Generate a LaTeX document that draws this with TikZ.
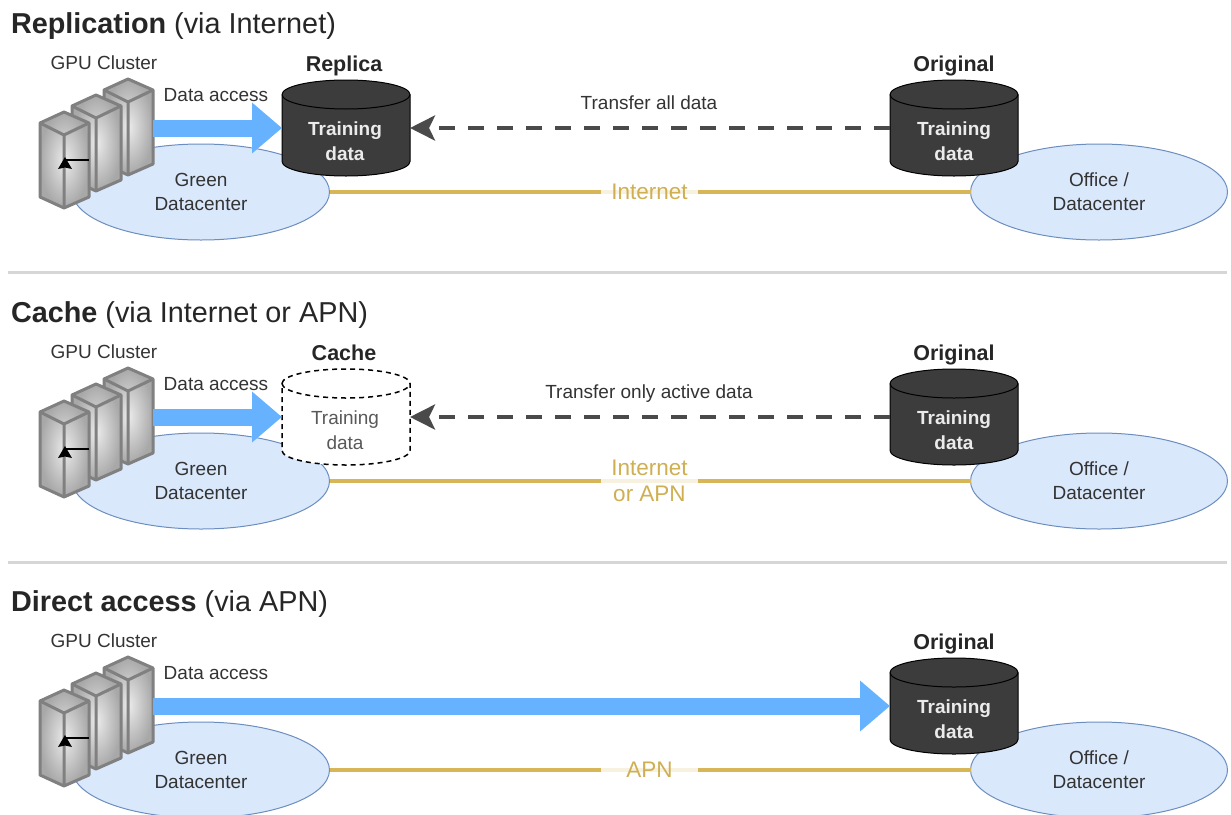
\documentclass[tikz,border=0pt]{standalone}
\usepackage{fontspec}
\setmainfont{Liberation Sans}
\usetikzlibrary{arrows.meta,shapes.geometric}
\definecolor{txt}{HTML}{333333}
\definecolor{blueflow}{HTML}{66B2FF}
\definecolor{dcfill}{HTML}{DAE8FC}
\definecolor{dcline}{HTML}{6C8EBF}
\definecolor{cyldark}{HTML}{3C3C3C}
\definecolor{gold}{HTML}{CFAF52}
\definecolor{linkgold}{HTML}{D6B656}
\definecolor{dashgray}{HTML}{4A4A4A}
\definecolor{rulegray}{HTML}{D6D6D6}
\definecolor{srvline}{HTML}{808080}
\newcommand{\fs}[2]{\fontsize{#1}{#2}\selectfont}
\tikzset{
  x=1pt,y=-1pt,
  every node/.style={inner sep=0pt,outer sep=0pt},
  plain/.style={font=\fs{19}{24},text=txt,align=center},
  headlabel/.style={font=\fs{21.5}{26}\bfseries,text=black!85,anchor=base},
  titletext/.style={font=\fs{28.8}{32},text=black!85,anchor=base west},
  dc/.style={ellipse,draw=dcline,line width=1pt,fill=dcfill,minimum width=257pt,minimum height=96pt,plain},
  cylbox/.style={minimum width=128pt,minimum height=96pt},
  darkcyl/.style={draw=black,fill=cyldark,line width=1pt},
  lightcyl/.style={draw=black,fill=white,line width=1.5pt,dash pattern=on 5pt off 4pt},
  cyldarktext/.style={font=\fs{19}{25}\bfseries,text=white!92!black,align=center},
  cyllighttext/.style={font=\fs{19}{25},text=black!65,align=center},
  linklabel/.style={font=\fs{22.5}{26},text=gold,align=center,fill=white,fill opacity=.82,text opacity=1,minimum width=97pt,minimum height=48pt},
  link/.style={draw=linkgold,line width=4pt},
  access/.style={draw=blueflow,line width=17pt,-{Triangle[length=30pt,width=49pt]}},
  transfer/.style={draw=dashgray,line width=4.5pt,dash pattern=on 16pt off 13pt,-{Stealth[length=25pt,width=25pt,inset=6pt]}},
  sep/.style={draw=rulegray,line width=3pt},
  srvblock/.style={draw=srvline,line width=3pt,line join=round,inner color=black!8,outer color=black!34},
  srvedge/.style={draw=srvline,line width=3pt,line join=round},
}
% cylinder: #1 name, #2 centre x, #3 centre y, #4 style
\newcommand{\cyl}[4]{%
  \node[cylbox] (#1) at (#2,#3) {};
  \path[#4] (#1.north west) ++(0,14.5) arc[x radius=64,y radius=14.5,start angle=180,end angle=360]
     -- ++(0,67) arc[x radius=64,y radius=14.5,start angle=0,end angle=180] -- cycle;
  \path[#4,fill=none] (#1.north west) ++(0,14.5) arc[x radius=64,y radius=14.5,start angle=180,end angle=0];
}
% server block with offset
\newcommand{\blk}[2]{%
  \begin{scope}[shift={(#1,#2)}]
    \path[srvblock,shade] (64,112)--(89,123)--(89,197)--(64,208)--(40,197)--(40,123)--cycle;
    \path[srvedge] (40,123)--(64,135)--(89,123) (64,135)--(64,208);
  \end{scope}}
% one panel: #1 prefix
\newcommand{\basepanel}[1]{%
  \node[plain,anchor=base] (#1gpu) at (104,69) {GPU Cluster};
  \node[dc] (#1green) at (201,192) {Green\\Datacenter};
  \node[dc] (#1office) at (1099,192) {Office /\\Datacenter};
  \node[plain,anchor=base] (#1da) at (216,101) {Data access};
  \coordinate (#1out) at (153,128);
  \blk{64}{-33}\blk{32}{-17}\blk{0}{0}
  \coordinate (#1ma) at (89,160);
  \coordinate (#1mb) at (65,160);
  \draw[black,line width=1.5pt] (#1ma) -- (#1mb);
  \fill[black] (#1mb)++(0,-3) -- ++(7,12) -- ++(-7,-1.5) -- ++(-7,1.5) -- cycle;
  \node[headlabel] (#1ol) at (954,71) {Original};
  \cyl{#1org}{954}{128}{darkcyl}
  \node[cyldarktext] (#1ot) at (954,141) {Training\\data};
}
\begin{document}
\begin{tikzpicture}
\useasboundingbox (0,0) rectangle (1231,814);
\clip (0,0) rectangle (1231,814);

% Replication
\node[titletext] (t1) at (11,33) {\textbf{Replication} (via Internet)};
\basepanel{a}
\cyl{arep}{346}{128}{darkcyl}
\node[cyldarktext] (art) at (345,141) {Training\\data};
\node[headlabel] (arl) at (344,71) {Replica};
\draw[access] (aout) -- (arep.west);
\draw[transfer] (aorg.west) -- (arep.east);
\node[plain,anchor=base] (atr) at (649,109) {Transfer all data};
\draw[link] (agreen.east) -- (aoffice.west);
\node[linklabel] (ali) at (649.5,192) {Internet};
\coordinate (s1a) at (8,272); \coordinate (s1b) at (1227,272);
\draw[sep] (s1a) -- (s1b);

% Cache
\node[titletext] (t2) at (11,322) {\textbf{Cache} (via Internet or APN)};
\begin{scope}[yshift=-289pt]
\basepanel{b}
\cyl{brep}{346}{128}{lightcyl}
\node[cyllighttext] (brt) at (345,141) {Training\\data};
\node[headlabel] (brl) at (344,71) {Cache};
\draw[access] (bout) -- (brep.west);
\draw[transfer] (borg.west) -- (brep.east);
\node[plain,anchor=base] (btr) at (649,109) {Transfer only active data};
\draw[link] (bgreen.east) -- (boffice.west);
\node[linklabel] (bli) at (649.5,192) {Internet\\or APN};
\end{scope}
\coordinate (s2a) at (8,562); \coordinate (s2b) at (1227,562);
\draw[sep] (s2a) -- (s2b);

% Direct access
\node[titletext] (t3) at (11,611) {\textbf{Direct access} (via APN)};
\begin{scope}[yshift=-578pt]
\basepanel{c}
\draw[access] (cout) -- (corg.west);
\draw[link] (cgreen.east) -- (coffice.west);
\node[linklabel] (cli) at (649.5,192) {APN};
\end{scope}
\end{tikzpicture}
\end{document}
